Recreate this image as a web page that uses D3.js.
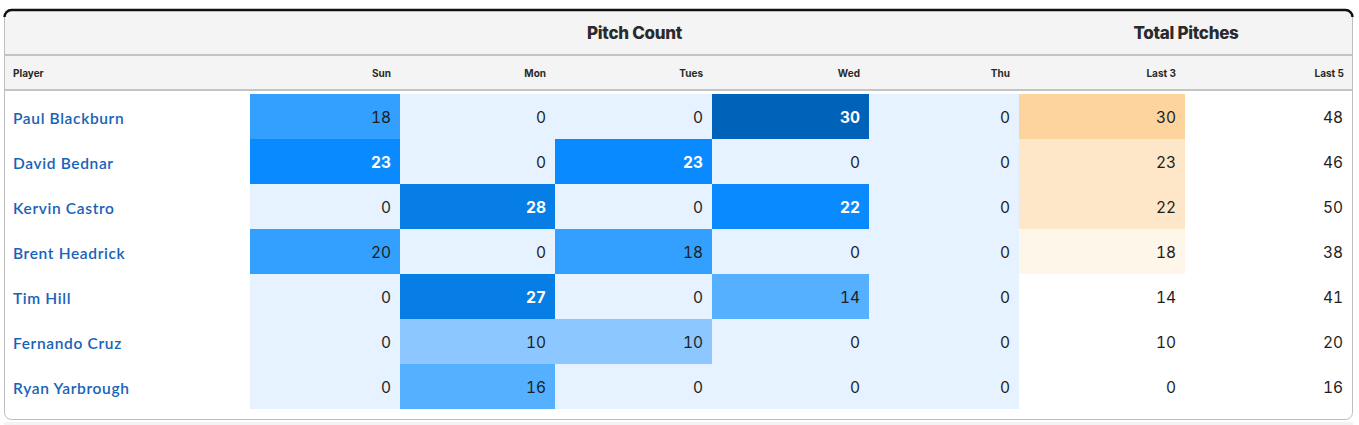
<!DOCTYPE html>
<html><head><meta charset="utf-8">
<script src="https://cdn.jsdelivr.net/npm/d3@7"></script>
<style>
html,body{margin:0;padding:0;background:#fff;}
svg{display:block;}
</style></head>
<body>
<svg id="chart" width="1359" height="425"></svg>
<script>
const players = ["Paul Blackburn","David Bednar","Kervin Castro","Brent Headrick","Tim Hill","Fernando Cruz","Ryan Yarbrough"];
const days = ["Sun","Mon","Tues","Wed","Thu"];
const sun  = [18,23,0,20,0,0,0];
const mon  = [0,0,28,0,27,10,16];
const tues = [0,23,0,18,0,10,0];
const wed  = [30,0,22,0,14,0,0];
const thu  = [0,0,0,0,0,0,0];
const last3 = [30,23,22,18,14,10,0];
const last5 = [48,46,50,38,41,20,16];
const columns = ["Player","Sun","Mon","Tues","Wed","Thu","Last 3","Last 5"];
const groups = [{label:"Pitch Count", from:"Sun", to:"Thu"},{label:"Total Pitches", from:"Last 3", to:"Last 5"}];

const dayValues = [sun, mon, tues, wed, thu];

const svg = d3.select("#chart");
const fL = 4, fR = 1353, fT = 10, fB = 420;
const colEdges = [4,250,400,555,712,869,1019,1185,1353];
const xLeft = d3.scaleOrdinal().domain(columns).range(colEdges.slice(0,8));
const xRight = d3.scaleOrdinal().domain(columns).range(colEdges.slice(1));
const y = d3.scaleBand().domain(players).range([94, 409]).padding(0);

const blue = d3.scaleThreshold().domain([1,12,17,21,25,29])
  .range(["#e6f2ff","#8cc8ff","#55b0ff","#33a0ff","#0a8aff","#067ee6","#0062b8"]);
const orange = d3.scaleThreshold().domain([15,20,25])
  .range(["#ffffff","#fff6ea","#fee7c8","#fdd49e"]);

const numFont = "Inter, 'DejaVu Sans', sans-serif";
const nameFont = "Lato, 'Open Sans', sans-serif";

const defs = svg.append("defs");
defs.append("clipPath").attr("id","frame").append("rect")
  .attr("x",fL).attr("y",fT-1).attr("width",fR-fL).attr("height",fB-fT+1).attr("rx",7);

svg.append("rect").attr("x",fL).attr("y",422).attr("width",fR-fL).attr("height",3).attr("fill","#f3f3f3");

const g = svg.append("g").attr("clip-path","url(#frame)");
g.append("rect").attr("x",fL).attr("y",fT).attr("width",fR-fL).attr("height",80).attr("fill","#f4f4f4");

g.append("line").attr("x1",fL).attr("x2",fR).attr("y1",55).attr("y2",55).attr("stroke","#c4c4c4").attr("stroke-width",2);
g.append("line").attr("x1",fL).attr("x2",fR).attr("y1",90).attr("y2",90).attr("stroke","#c4c4c4").attr("stroke-width",2);

g.selectAll("text.group").data(groups).join("text")
  .attr("class","group")
  .attr("x", d => (xLeft(d.from)+xRight(d.to))/2)
  .attr("y", 33)
  .attr("text-anchor","middle").attr("dominant-baseline","central")
  .attr("font-family", numFont).attr("font-weight",800).attr("font-size",17).attr("fill","#2a2a2a")
  .attr("letter-spacing","-0.3")
  .text(d => d.label);

g.selectAll("text.col").data(columns).join("text")
  .attr("class","col")
  .attr("x", d => d==="Player" ? 13 : xRight(d)-9)
  .attr("y", 73)
  .attr("text-anchor", d => d==="Player" ? "start" : "end")
  .attr("dominant-baseline","central")
  .attr("font-family", numFont).attr("font-weight",700).attr("font-size",10).attr("fill","#2a2a2a")
  .text(d => d);

const cells = [];
days.forEach((day, j) => players.forEach((p, i) => cells.push({col:day, player:p, v:dayValues[j][i], kind:"blue"})));
players.forEach((p,i) => cells.push({col:"Last 3", player:p, v:last3[i], kind:"orange"}));
players.forEach((p,i) => cells.push({col:"Last 5", player:p, v:last5[i], kind:"none"}));

g.selectAll("rect.cell").data(cells.filter(c => c.kind!=="none")).join("rect")
  .attr("class","cell")
  .attr("x", d => xLeft(d.col))
  .attr("y", d => y(d.player))
  .attr("width", d => xRight(d.col)-xLeft(d.col))
  .attr("height", y.bandwidth())
  .attr("fill", d => d.kind==="blue" ? blue(d.v) : orange(d.v));

g.selectAll("text.val").data(cells).join("text")
  .attr("class","val")
  .attr("x", d => xRight(d.col) - (d.col==="Last 5" ? 10 : 9))
  .attr("y", d => y(d.player) + y.bandwidth()/2 + 1)
  .attr("text-anchor","end").attr("dominant-baseline","central")
  .attr("font-family", numFont).attr("font-size",15.5)
  .style("font-variant-numeric","tabular-nums")
  .attr("font-weight", d => d.kind==="blue" && d.v>=21 ? 700 : 400)
  .attr("fill", d => d.kind==="blue" && d.v>=21 ? "#ffffff" : "#1e1e1e")
  .text(d => d.v);

g.selectAll("text.name").data(players).join("text")
  .attr("class","name")
  .attr("x", 13)
  .attr("y", d => y(d) + y.bandwidth()/2 + 1)
  .attr("dominant-baseline","central")
  .attr("font-family", nameFont).attr("font-weight",600).attr("font-size",15.5).attr("fill","#1763b8")
  .attr("letter-spacing","0.65")
  .text(d => d);

svg.append("rect").attr("x",fL+0.5).attr("y",fT-0.5).attr("width",fR-fL-1).attr("height",fB-fT).attr("rx",7)
  .attr("fill","none").attr("stroke","#bdbdbd").attr("stroke-width",1);
svg.append("path")
  .attr("d", `M${fL+0.5},${fT+7} A7,7 0 0 1 ${fL+7.5},${fT} L${fR-7.5},${fT} A7,7 0 0 1 ${fR-0.5},${fT+7}`)
  .attr("fill","none").attr("stroke","#111").attr("stroke-width",2.5);
</script>
</body></html>
